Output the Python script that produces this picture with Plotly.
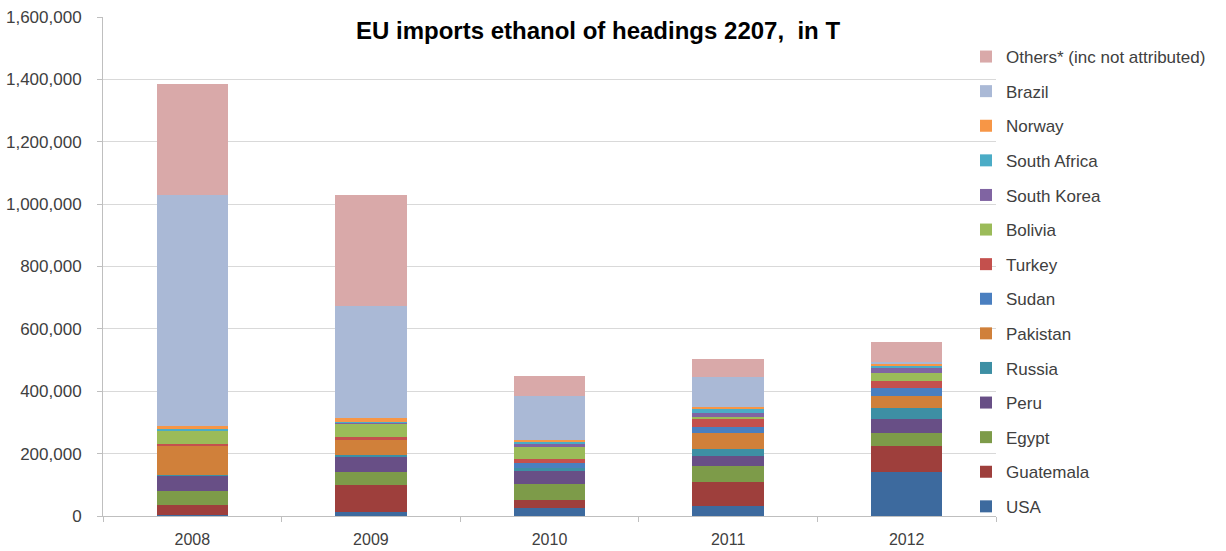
import plotly.graph_objects as go

years = ["2008", "2009", "2010", "2011", "2012"]

usa          = [2000, 14000, 27000, 33000, 142000]
guatemala    = [33000, 85000, 24000, 77000, 83000]
egypt        = [46000, 43000, 52000, 50000, 42000]
peru         = [48000, 50000, 44000, 33000, 44000]
russia       = [2000, 3000, 6000, 22000, 36000]
pakistan     = [96000, 50000, 0, 50000, 38000]
sudan        = [0, 0, 18000, 21000, 24000]
turkey       = [5000, 8000, 11000, 24000, 24000]
bolivia      = [43000, 43000, 40000, 8000, 25000]
south_korea  = [0, 3000, 11000, 13000, 16000]
south_africa = [5000, 3000, 3000, 12000, 8000]
norway       = [7000, 11000, 9000, 7000, 8000]
brazil       = [743000, 360000, 141000, 95000, 5000]
others       = [355000, 355000, 62000, 58000, 64000]

series = [
    ("USA", usa, "#3D6A9E"),
    ("Guatemala", guatemala, "#9E3F3C"),
    ("Egypt", egypt, "#7D9B49"),
    ("Peru", peru, "#684F86"),
    ("Russia", russia, "#3D8FA4"),
    ("Pakistan", pakistan, "#D0803A"),
    ("Sudan", sudan, "#4A7FC0"),
    ("Turkey", turkey, "#C4504D"),
    ("Bolivia", bolivia, "#9BBB59"),
    ("South Korea", south_korea, "#8064A2"),
    ("South Africa", south_africa, "#4BACC6"),
    ("Norway", norway, "#F79646"),
    ("Brazil", brazil, "#AAB9D6"),
    ("Others* (inc not attributed)", others, "#D9A9A9"),
]

L, R, T, B = 103, 230, 17, 35
W, H = 1226, 551
PW, PH = W - L - R, H - T - B

fig = go.Figure()
n = len(series)
for i, (name, vals, col) in enumerate(series):
    fig.add_trace(go.Bar(
        x=years, y=vals, name=name, legendgroup=name,
        legendrank=n - i,
        marker=dict(color=col, line=dict(width=0)),
    ))

fig.update_layout(
    barmode="stack",
    bargap=0.6,
    width=W, height=H,
    margin=dict(l=L, r=R, t=T, b=B, autoexpand=False),
    paper_bgcolor="white", plot_bgcolor="white",
    font=dict(family="Liberation Sans, Arial, sans-serif", size=16, color="#404040"),
    legend=dict(
        traceorder="grouped",
        tracegroupgap=9.5,
        x=(966 - L) / PW, xanchor="left",
        y=1 - (39 - T) / PH, yanchor="top",
        bgcolor="rgba(255,255,255,0)",
        font=dict(size=17, color="#404040"),
        itemwidth=30,
    ),
    xaxis=dict(
        automargin=False,
        showline=True, linecolor="#BFBFBF", linewidth=1,
        ticks="outside", tickson="boundaries", ticklen=5, tickcolor="#BFBFBF",
        tickfont=dict(size=16, color="#404040"),
        ticklabelstandoff=9,
    ),
    yaxis=dict(
        automargin=False,
        range=[0, 1600000], tickvals=[i * 200000 for i in range(9)],
        tickformat=",d",
        showgrid=True, gridcolor="#D9D9D9", gridwidth=1,
        showline=True, linecolor="#BFBFBF", linewidth=1,
        ticks="outside", ticklen=5, tickcolor="#BFBFBF",
        tickfont=dict(size=17, color="#404040"),
        ticklabelstandoff=12,
        zeroline=False,
    ),
    annotations=[dict(
        text="<b>EU imports ethanol of headings 2207,  in T</b>",
        xref="x domain", yref="y domain",
        x=(598 - L) / PW, y=1 - (30 - T) / PH,
        xanchor="center", yanchor="middle",
        showarrow=False, font=dict(size=24, color="#000000"),
    )],
)

fig.write_html("out.html")
